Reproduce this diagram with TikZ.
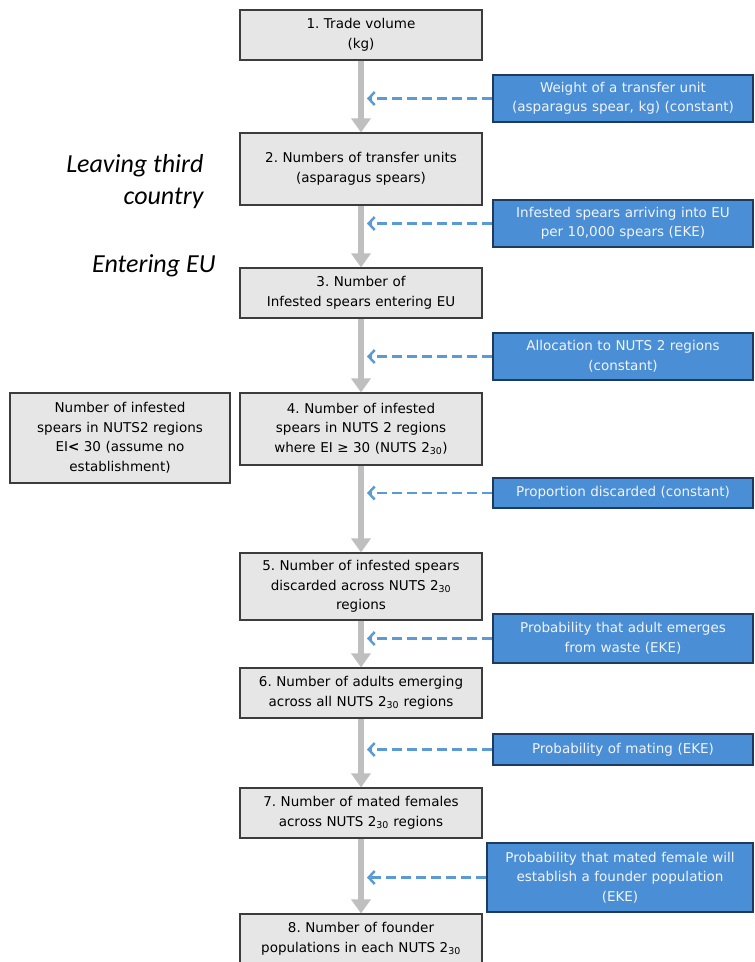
\documentclass[tikz,border=0pt]{standalone}
\usepackage{fontspec}
\setmainfont{DejaVu Sans}
\newfontfamily\phasefont{Carlito}
\usetikzlibrary{arrows.meta,positioning}
\definecolor{stepfill}{HTML}{E6E6E6}
\definecolor{stepline}{HTML}{3C3C3C}
\definecolor{inputfill}{HTML}{4A8ED6}
\definecolor{inputline}{HTML}{1F3A5F}
\definecolor{inputtext}{HTML}{F2F4F8}
\definecolor{dashblue}{HTML}{5B9BD5}
\definecolor{flowgray}{HTML}{BFBFBF}
\frenchspacing

\begin{document}
\begin{tikzpicture}[x=1pt,y=-1pt,font=\fontsize{13.5}{19.5}\selectfont,
  stepbox/.style={draw=stepline,line width=1.2pt,fill=stepfill,align=center,text width=238pt,minimum width=242pt,inner sep=0pt},
  inputbox/.style={draw=inputline,line width=1.2pt,fill=inputfill,text=inputtext,align=center,text width=256pt,minimum width=260pt,inner sep=0pt},
  flow/.style={flowgray,line width=6.5pt,-{Triangle[length=14pt,width=19pt]}},
  feed/.style={dashblue,line width=2.5pt,dash pattern=on 10pt off 5pt,-{Straight Barb[length=6pt,width=13pt]}},
  phase/.style={font=\phasefont\itshape\fontsize{26}{32}\selectfont,align=right}]
\clip (0,0) rectangle (755,962);
% chain of quantities
\node[stepbox,minimum height=50pt] (s1) at (361,35) {1. Trade volume\\(kg)};
\node[stepbox,minimum height=72pt] (s2) at (361,169) {2. Numbers of transfer units\\(asparagus spears)};
\node[stepbox,minimum height=50pt] (s3) at (361,293) {3. Number of\\Infested spears entering EU};
\node[stepbox,minimum height=72pt] (s4) at (361,429) {4. Number of infested\\spears in NUTS 2 regions\\where EI ≥ 30 (NUTS 2\textsubscript{30})};
\node[stepbox,text width=216pt,minimum width=220pt,minimum height=90pt] (s4b) at (120,438) {Number of infested\\spears in NUTS2 regions\\EI\textbf{<} 30 (assume no\\establishment)};
\node[stepbox,minimum height=67pt] (s5) at (361,586.5) {5. Number of infested spears\\discarded across NUTS 2\textsubscript{30}\\regions};
\node[stepbox,minimum height=50pt] (s6) at (361,693) {6. Number of adults emerging\\across all NUTS 2\textsubscript{30} regions};
\node[stepbox,minimum height=50pt] (s7) at (361,813) {7. Number of mated females\\across NUTS 2\textsubscript{30} regions};
\node[stepbox,minimum height=50pt] (s8) at (361,939) {8. Number of founder\\populations in each NUTS 2\textsubscript{30}};
% parameters
\node[inputbox,minimum height=47pt] (p1) at (623,98.5) {Weight of a transfer unit\\(asparagus spear, kg) (constant)};
\node[inputbox,minimum height=47pt] (p2) at (623,223.5) {Infested spears arriving into EU\\per 10,000 spears (EKE)};
\node[inputbox,minimum height=47pt] (p3) at (623,356.5) {Allocation to NUTS 2 regions\\(constant)};
\node[inputbox,minimum height=30pt] (p4) at (623,493) {Proportion discarded (constant)};
\node[inputbox,minimum height=49pt] (p5) at (623,638.5) {Probability that adult emerges\\from waste (EKE)};
\node[inputbox,minimum height=31pt] (p6) at (623,749.5) {Probability of mating (EKE)};
\node[inputbox,text width=262pt,minimum width=266pt,minimum height=69pt] (p7) at (620,877.5) {Probability that mated female will\\establish a founder population\\(EKE)};
% phases
\node[phase,anchor=east] (leave) at (207,182) {Leaving third\\country};
\node[phase,anchor=base east] (enter) at (219,272) {Entering EU};
\coordinate (axis) at (367,0);
\foreach \a/\b in {s1/s2,s2/s3,s3/s4,s4/s5,s5/s6,s6/s7,s7/s8}
  \draw[flow] (\a) -- (\b);
\foreach \p in {p1,p2,p3,p4,p5,p6,p7}
  \draw[feed] (\p.west) -- (\p.west -| axis);
\end{tikzpicture}
\end{document}
